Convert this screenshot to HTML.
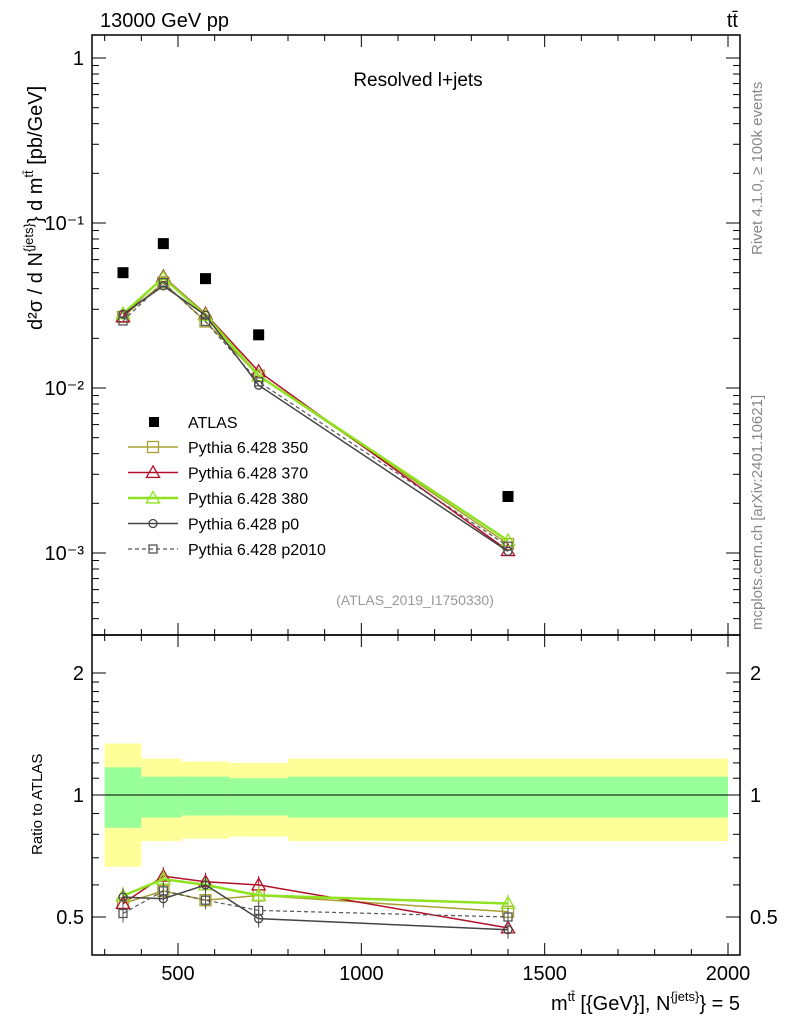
<!DOCTYPE html>
<html><head><meta charset="utf-8"><style>body{margin:0;background:#fff}svg text{font-family:"Liberation Sans",sans-serif}</style></head>
<body>
<svg id="c" width="786" height="1024" xmlns="http://www.w3.org/2000/svg">
<text x="100" y="27" font-size="20">13000 GeV pp</text>
<text x="738" y="27" font-size="20" text-anchor="end">tt̄</text>
<text x="418" y="86" font-size="19" text-anchor="middle">Resolved l+jets</text>
<text x="415" y="605" font-size="14" fill="#999" text-anchor="middle">(ATLAS_2019_I1750330)</text>
<text transform="translate(762,255) rotate(-90)" font-size="15" fill="#888">Rivet 4.1.0, ≥ 100k events</text>
<text transform="translate(762,630) rotate(-90)" font-size="15" fill="#888">mcplots.cern.ch [arXiv:2401.10621]</text>
<text transform="translate(42,330) rotate(-90)" font-size="20">d²σ / d N<tspan font-size="13" dy="-9">{jets}</tspan><tspan dy="9">} d m</tspan><tspan font-size="13" dy="-9">tt̄</tspan><tspan dy="9"> [pb/GeV]</tspan></text>
<text transform="translate(42,855) rotate(-90)" font-size="15">Ratio to ATLAS</text>
<text x="740" y="1010" font-size="20" text-anchor="end">m<tspan font-size="13" dy="-9">tt̄</tspan><tspan dy="9"> [{GeV}], N</tspan><tspan font-size="13" dy="-9">{jets}</tspan><tspan dy="9">} = 5</tspan></text>
<g id="g"></g>
</svg>
<script>
const xCats=[350,460,575,720,1400];
const atlas=[0.050,0.075,0.046,0.021,0.0022];
const p350=[0.027,0.0435,0.0253,0.01187,0.001133];
const p370=[0.027,0.0473,0.0281,0.0126,0.001034];
const p380=[0.0282,0.0465,0.0276,0.01187,0.001188];
const p0=[0.028,0.0416,0.0276,0.0104,0.001023];
const p2010=[0.0255,0.0435,0.0253,0.0109,0.0011];
const binEdges=[300,400,510,640,800,2000];
const totLo=[0.665,0.77,0.78,0.79,0.77];
const totHi=[1.34,1.23,1.21,1.20,1.23];
const statLo=[0.83,0.88,0.89,0.89,0.88];
const statHi=[1.17,1.11,1.11,1.10,1.11];
const xTicks=[500,1000,1500,2000];
const yTicks=[1,0.1,0.01,0.001];
const yTickLabels=["1","10⁻¹","10⁻²","10⁻³"];
const rTicks=[0.5,1,2];

const L=92,R=740,T=35,M=635,B=955;
const X=v=>178+(v-500)*0.36667;
const Y=v=>58-Math.log10(v)*165;
const RY=r=>795-Math.log2(r)*122;
const NS="http://www.w3.org/2000/svg",g=document.getElementById('g');
function mk(t,a,p){const e=document.createElementNS(NS,t);for(const k in a)e.setAttribute(k,a[k]);(p||g).appendChild(e);return e;}
for(let i=0;i<5;i++){
 let e=mk('rect',{x:X(binEdges[i]),y:RY(totHi[i]),width:X(binEdges[i+1])-X(binEdges[i]),height:RY(totLo[i])-RY(totHi[i]),fill:'#ffff99'});
 
 
 e=mk('rect',{x:X(binEdges[i]),y:RY(statHi[i]),width:X(binEdges[i+1])-X(binEdges[i]),height:RY(statLo[i])-RY(statHi[i]),fill:'#99ff99'});
 
 
}
mk('line',{x1:L,x2:R,y1:RY(1),y2:RY(1),stroke:'#000'});
for(const [y1,y2,n] of [[T,M,'main-frame'],[M,B,'ratio-frame']]){
 const f=mk('rect',{x:L,y:y1,width:R-L,height:y2-y1,fill:'none',stroke:'#000','stroke-width':1.5});
 
 
}
for(let v=300;v<=2000;v+=100){const maj=v%500==0,w=maj?12:6;
 mk('line',{x1:X(v),x2:X(v),y1:M,y2:M-w,stroke:'#000'});mk('line',{x1:X(v),x2:X(v),y1:T,y2:T+w,stroke:'#000'});
 mk('line',{x1:X(v),x2:X(v),y1:B,y2:B-w,stroke:'#000'});mk('line',{x1:X(v),x2:X(v),y1:M,y2:M+w,stroke:'#000'});}
xTicks.forEach(v=>{const t=mk('text',{x:X(v),y:980,'font-size':20,'text-anchor':'middle'});t.textContent=v;
 
 });
for(let d=-4;d<=0;d++)for(let m=1;m<10;m++){const v=m*Math.pow(10,d),y=Y(v);if(y<T||y>M)continue;const w=m==1?14:7;
 mk('line',{x1:L,x2:L+w,y1:y,y2:y,stroke:'#000'});mk('line',{x1:R,x2:R-w,y1:y,y2:y,stroke:'#000'});}
yTicks.forEach((v,i)=>{const t=mk('text',{x:84,y:Y(v)+7,'font-size':20,'text-anchor':'end'});t.textContent=yTickLabels[i];
 
 });
[0.5,0.6,0.7,0.8,0.9,1,1.1,1.2,1.3,1.4,1.5,1.6,1.7,1.8,1.9,2].forEach(r=>{const w=(r==0.5||r==1||r==2)?14:7;mk('line',{x1:L,x2:L+w,y1:RY(r),y2:RY(r),stroke:'#000'});mk('line',{x1:R,x2:R-w,y1:RY(r),y2:RY(r),stroke:'#000'});});
rTicks.forEach(r=>{for(const [x,a] of [[84,'end'],[750,'start']]){const t=mk('text',{x:x,y:RY(r)+7,'font-size':20,'text-anchor':a});t.textContent=r;
 
 }});
const series=[[p350,'#a8a032','sq',1.5,null,'Pythia 6.428 350',11],[p370,'#b2102a','tri',1.5,null,'Pythia 6.428 370',11],[p380,'#8ee21e','tri',2.5,null,'Pythia 6.428 380',11],[p0,'#444','circ',1.5,null,'Pythia 6.428 p0',8],[p2010,'#555','sq',1.2,'4,3','Pythia 6.428 p2010',8]];
function marker(type,x,y,c,s){
 let e;if(type=='sq')e=mk('rect',{x:x-s/2,y:y-s/2,width:s,height:s,fill:'none',stroke:c,'stroke-width':1.3});
 else if(type=='tri')e=mk('polygon',{points:`${x},${y-s*0.6} ${x-s*0.6},${y+s*0.45} ${x+s*0.6},${y+s*0.45}`,fill:'none',stroke:c,'stroke-width':1.3});
 else e=mk('circle',{cx:x,cy:y,r:s/2,fill:'none',stroke:c,'stroke-width':1.3});
 return e;}
series.forEach(([d,c,m,w,da,name,s])=>{
 const a={fill:'none',stroke:c,'stroke-width':w};if(da)a['stroke-dasharray']=da;
 a.points=d.map((v,i)=>X(xCats[i])+','+Y(v)).join(' ');let pl=mk('polyline',a);
 
 
 const b=Object.assign({},a);b.points=d.map((v,i)=>X(xCats[i])+','+RY(v/atlas[i])).join(' ');pl=mk('polyline',b);
 
 
 d.forEach((v,i)=>{let e=marker(m,X(xCats[i]),Y(v),c,s);
  
  
  const ry=RY(v/atlas[i]);mk('line',{x1:X(xCats[i]),x2:X(xCats[i]),y1:ry-9,y2:ry+9,stroke:c});
  e=marker(m,X(xCats[i]),ry,c,s);
  
  });
});
atlas.forEach((v,i)=>{const e=mk('rect',{x:X(xCats[i])-5.5,y:Y(v)-5.5,width:11,height:11,fill:'#000'});
 
 });
let ly=422;let e=mk('rect',{x:149,y:ly-5,width:10,height:10,fill:'#000'});


let t=mk('text',{x:188,y:ly+6,'font-size':16});t.textContent='ATLAS';


series.forEach(([d,c,m,w,da,name,s],k)=>{const y=447+k*25.5;const a={x1:128,x2:178,y1:y,y2:y,stroke:c,'stroke-width':w};if(da)a['stroke-dasharray']=da;mk('line',a);marker(m,153,y,c,s);
 const tt=mk('text',{x:188,y:y+6,'font-size':16});tt.textContent=name;
 
 });
</script>
</body></html>
